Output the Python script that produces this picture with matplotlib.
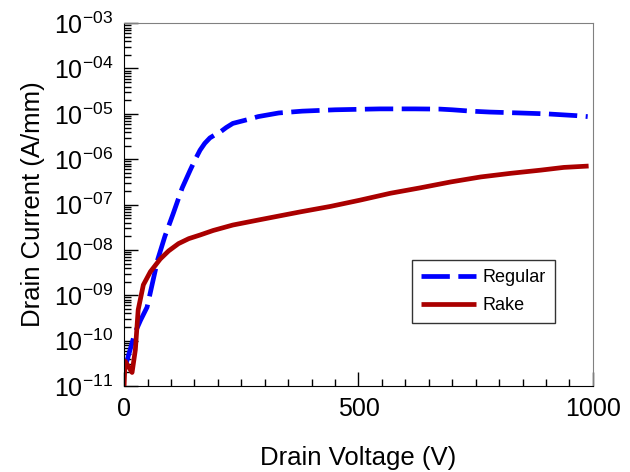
import numpy as np
import matplotlib
matplotlib.use("Agg")
import matplotlib.pyplot as plt
from matplotlib.ticker import FixedLocator, LogLocator, MultipleLocator, NullFormatter

plt.rcParams['font.family'] = ['Liberation Sans', 'DejaVu Sans']
plt.rcParams['mathtext.fontset'] = 'custom'
plt.rcParams['mathtext.rm'] = 'Liberation Sans'

# valores (tensao em V, corrente em log10(A/mm))
v_regular = [3, 10, 23, 35, 49, 60, 72, 87, 105, 124, 141, 152, 162, 172, 183,
             194, 205, 218, 232, 262, 286, 330, 380, 450, 546, 620, 674, 700,
             740, 780, 844, 902, 966, 989]
log_regular = [-10.55, -10.3, -9.83, -9.55, -9.26, -8.75, -8.2, -7.7, -7.19, -6.63,
               -6.24, -6.0, -5.80, -5.65, -5.53, -5.46, -5.40, -5.30, -5.21, -5.13,
               -5.06, -4.98, -4.94, -4.91, -4.89, -4.89, -4.895, -4.91, -4.94, -4.96,
               -4.98, -5.0, -5.04, -5.06]

v_rake = [0, 2, 8, 17, 24, 30, 41, 56, 77, 95, 116, 138, 162, 190, 232, 286, 376,
          440, 504, 568, 632, 697, 761, 825, 889, 938, 991]
log_rake = [-11.0, -10.45, -10.55, -10.7, -10.2, -9.32, -8.77, -8.48, -8.2, -8.02,
            -7.86, -7.75, -7.67, -7.57, -7.45, -7.34, -7.16, -7.04, -6.90, -6.75,
            -6.63, -6.50, -6.39, -6.31, -6.24, -6.18, -6.15]

decadas = list(range(-11, -2))

fig = plt.figure(figsize=(6.3, 4.72), dpi=100)
ax = fig.add_axes([0.197, 0.182, 0.744, 0.769])

ax.plot(v_regular, 10.0 ** np.array(log_regular), color='#0000FF', lw=3.4,
        linestyle=(0, (6, 1.8)), dash_capstyle='butt', label='Regular')
ax.plot(v_rake, 10.0 ** np.array(log_rake), color='#AA0000', lw=3.4,
        solid_capstyle='butt', label='Rake')

ax.set_yscale('log')
ax.set_xlim(0, 1000)
ax.set_ylim(1e-11, 1e-3)

ax.xaxis.set_major_locator(FixedLocator([0, 500, 1000]))
ax.xaxis.set_minor_locator(MultipleLocator(50))
ax.yaxis.set_major_locator(FixedLocator([10.0 ** d for d in decadas]))
ax.yaxis.set_minor_locator(LogLocator(base=10, subs=np.arange(2, 10), numticks=20))
ax.yaxis.set_minor_formatter(NullFormatter())
ax.set_yticklabels([r'$\mathregular{10^{-%02d}}$' % (-d) for d in decadas])

ax.tick_params(which='both', direction='in', top=False, right=False,
               labelsize=18, width=1, pad=8)
ax.tick_params(which='major', length=10)
ax.tick_params(which='minor', length=5)

for lado in ['top', 'right']:
    ax.spines[lado].set_color('#808080')
for lado in ['left', 'bottom']:
    ax.spines[lado].set_color('black')

ax.set_xlabel('Drain Voltage (V)', fontsize=18.5, labelpad=18)
ax.set_ylabel('Drain Current (A/mm)', fontsize=18.5, labelpad=6)

leg = ax.legend(loc='lower left', bbox_to_anchor=(0.615, 0.174), fontsize=13,
                fancybox=False, framealpha=1, edgecolor='#333333',
                handlelength=3.0, handletextpad=0.4, borderpad=0.5,
                borderaxespad=0, labelspacing=0.6)
leg.get_frame().set_linewidth(1.0)

fig.savefig('out.png', dpi=100)
